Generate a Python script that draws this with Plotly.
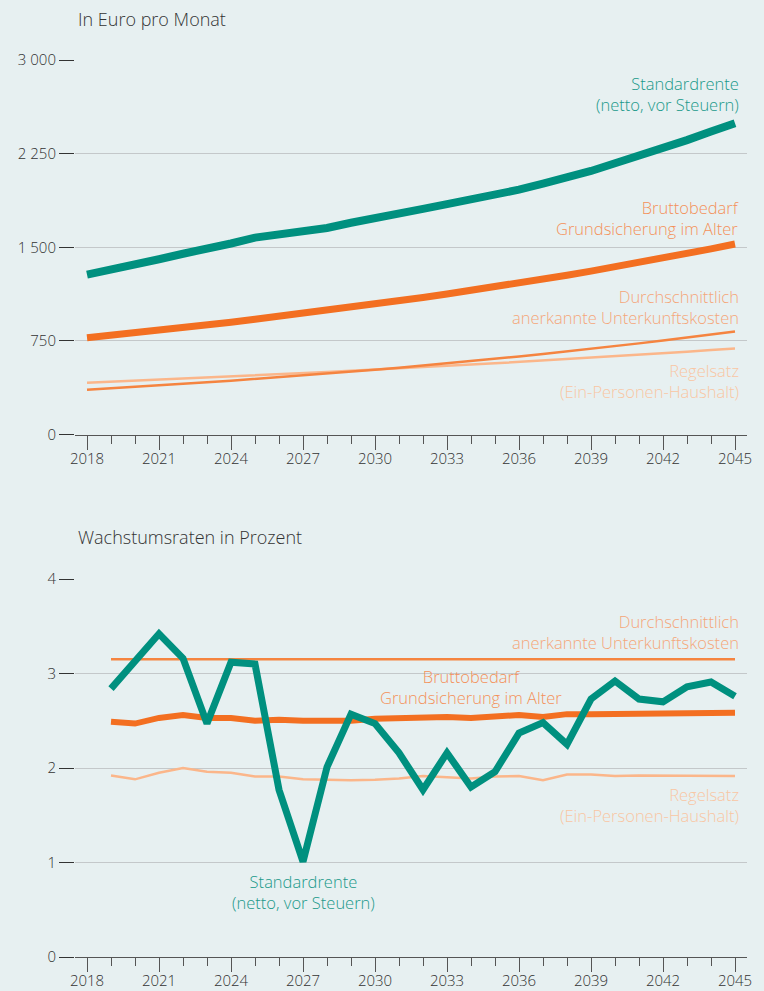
import plotly.graph_objects as go

years = list(range(2018, 2046))
growth_years = list(range(2019, 2046))

# Top chart: Euro per month
standardrente = [1280, 1316, 1357, 1404, 1448, 1484, 1530, 1577, 1605, 1621, 1654, 1696, 1738, 1776,
                 1807, 1846, 1879, 1916, 1961, 2010, 2055, 2111, 2173, 2232, 2292, 2358, 2427, 2494]
bruttobedarf = [775, 794, 814, 834, 856, 877, 899, 923, 946, 969, 994, 1018, 1044, 1070,
                1097, 1125, 1153, 1183, 1214, 1244, 1276, 1309, 1342, 1377, 1413, 1450, 1487, 1526]
unterkunft = [358, 369, 381, 393, 405, 418, 431, 445, 458, 473, 488, 503, 519, 535,
              552, 570, 588, 606, 625, 645, 665, 686, 708, 730, 753, 777, 801, 826]
regelsatz = [414, 422, 430, 438, 447, 456, 464, 473, 482, 491, 500, 510, 519, 529,
             539, 549, 560, 570, 581, 592, 603, 615, 627, 639, 651, 663, 676, 689]

# Bottom chart: growth rates in percent
g_standard = [2.84, 3.14, 3.42, 3.16, 2.47, 3.12, 3.10, 1.77, 1.01, 2.01, 2.57, 2.47, 2.16, 1.77,
              2.16, 1.80, 1.96, 2.37, 2.48, 2.25, 2.73, 2.92, 2.73, 2.70, 2.86, 2.91, 2.76]
g_brutto = [2.49, 2.47, 2.53, 2.56, 2.53, 2.53, 2.50, 2.51, 2.50, 2.50, 2.50, 2.52, 2.53, 2.54,
            2.54, 2.53, 2.54, 2.56, 2.54, 2.57, 2.57, 2.57, 2.575, 2.58, 2.585, 2.585, 2.585]
g_unterkunft = [3.15] * 27
g_regel = [1.92, 1.88, 1.95, 2.00, 1.96, 1.95, 1.91, 1.91, 1.88, 1.875, 1.87, 1.875, 1.89, 1.915,
           1.90, 1.89, 1.91, 1.915, 1.87, 1.93, 1.93, 1.915, 1.92, 1.92, 1.92, 1.915, 1.915]

top_ticks = [0, 750, 1500, 2250, 3000]
top_ticktext = ["0", "750", "1 500", "2 250", "3 000"]
bot_ticks = [0, 1, 2, 3, 4]
x_ticks = list(range(2018, 2046, 3))

TEAL = "#00907f"
ORANGE = "#f36f21"
ORANGE_MID = "#f58440"
ORANGE_LIGHT = "#fbb68a"
TXT_TEAL = "#1a998a"
TXT_BRUTTO = "#f4915a"
TXT_UNTER = "#f5a679"
TXT_REGEL = "#f9c6a3"
BG = "#e7f0f1"
FONT = "Open Sans"

fig = go.Figure()

# top chart traces
fig.add_trace(go.Scatter(x=years, y=regelsatz, mode="lines", line=dict(color=ORANGE_LIGHT, width=2.5),
                         xaxis="x", yaxis="y", showlegend=False))
fig.add_trace(go.Scatter(x=years, y=unterkunft, mode="lines", line=dict(color=ORANGE_MID, width=2.5),
                         xaxis="x", yaxis="y", showlegend=False))
fig.add_trace(go.Scatter(x=years, y=bruttobedarf, mode="lines", line=dict(color=ORANGE, width=7),
                         xaxis="x", yaxis="y", showlegend=False))
fig.add_trace(go.Scatter(x=years, y=standardrente, mode="lines", line=dict(color=TEAL, width=8),
                         xaxis="x", yaxis="y", showlegend=False))

# bottom chart traces
fig.add_trace(go.Scatter(x=growth_years, y=g_regel, mode="lines", line=dict(color=ORANGE_LIGHT, width=2.5),
                         xaxis="x2", yaxis="y2", showlegend=False))
fig.add_trace(go.Scatter(x=growth_years, y=g_unterkunft, mode="lines", line=dict(color=ORANGE_MID, width=2.5),
                         xaxis="x2", yaxis="y2", showlegend=False))
fig.add_trace(go.Scatter(x=growth_years, y=g_brutto, mode="lines", line=dict(color=ORANGE, width=6),
                         xaxis="x2", yaxis="y2", showlegend=False))
fig.add_trace(go.Scatter(x=growth_years, y=g_standard, mode="lines", line=dict(color=TEAL, width=7),
                         xaxis="x2", yaxis="y2", showlegend=False))

W, H = 764, 991
xdom = [75 / W, 747 / W]
top_dom = [1 - 434.5 / H, 1 - 60 / H]
bot_dom = [1 - 957 / H, 1 - 579 / H]

tickfont = dict(family=FONT, size=15, color="#333", weight=350)

xaxis_common = dict(
    range=[2017.5, 2045.5], domain=xdom, tickmode="array", tickvals=x_ticks,
    ticks="outside", ticklen=14, tickwidth=1, tickcolor="#555", ticklabelstandoff=-4,
    minor=dict(dtick=1, tick0=2018, ticks="outside", ticklen=8, tickwidth=1, tickcolor="#555", showgrid=False),
    showline=True, linecolor="#555", linewidth=1, showgrid=False, zeroline=False, automargin=False,
    tickfont=tickfont, fixedrange=True,
)
yaxis_common = dict(
    ticks="outside", ticklen=15, tickwidth=1.3, tickcolor="#333", automargin=False,
    showline=False, showgrid=True, gridcolor="#c4c8ca", gridwidth=1, zeroline=False,
    tickfont=tickfont, fixedrange=True,
)

fig.update_layout(
    width=W, height=H, margin=dict(l=0, r=0, t=0, b=0, autoexpand=False),
    paper_bgcolor=BG, plot_bgcolor=BG,
    font=dict(family=FONT, color="#333"),
    xaxis=dict(**xaxis_common, anchor="y"),
    xaxis2=dict(**xaxis_common, anchor="y2"),
    yaxis=dict(**yaxis_common, domain=top_dom, range=[0, 3000], tickmode="array",
               tickvals=top_ticks, ticktext=top_ticktext, anchor="x"),
    yaxis2=dict(**yaxis_common, domain=bot_dom, range=[0, 4], tickmode="array",
                tickvals=bot_ticks, ticktext=[str(v) for v in bot_ticks], anchor="x2"),
)

ann = []
ann.append(dict(text="In Euro pro Monat", xref="paper", yref="paper", x=76 / W, y=1 - 19 / H,
                xanchor="left", yanchor="middle", showarrow=False,
                font=dict(size=18, color="#333", family=FONT, weight=350)))
ann.append(dict(text="Wachstumsraten in Prozent", xref="paper", yref="paper", x=76 / W, y=1 - 537 / H,
                xanchor="left", yanchor="middle", showarrow=False,
                font=dict(size=18, color="#333", family=FONT, weight=350)))


def label(text, x, y, xa, ya, color, xanchor="right", align="right"):
    ann.append(dict(text=text, x=x, y=y, xref=xa, yref=ya, xanchor=xanchor, yanchor="middle",
                    align=align, showarrow=False, font=dict(size=16.5, color=color, family=FONT, weight=300)))


xr = 2017.5 + (741 - 75) / 24
label("Standardrente<br>(netto, vor Steuern)", xr, 2727, "x", "y", TXT_TEAL)
label("Bruttobedarf<br>Grundsicherung im Alter", xr, 1737, "x", "y", TXT_BRUTTO)
label("Durchschnittlich<br>anerkannte Unterkunftskosten", xr, 1023, "x", "y", TXT_UNTER)
label("Regelsatz<br>(Ein-Personen-Haushalt)", xr, 425, "x", "y", TXT_REGEL)

label("Durchschnittlich<br>anerkannte Unterkunftskosten", xr, 3.434, "x2", "y2", TXT_UNTER)
label("Bruttobedarf<br>Grundsicherung im Alter", 2034.02, 2.857, "x2", "y2", TXT_BRUTTO, "center", "center")
label("Regelsatz<br>(Ein-Personen-Haushalt)", xr, 1.608, "x2", "y2", TXT_REGEL)
label("Standardrente<br>(netto, vor Steuern)", 2027.0, 0.688, "x2", "y2", TXT_TEAL, "center", "center")

fig.update_layout(annotations=ann)

fig.write_html("out.html", config={"displayModeBar": False},
               post_script="document.body.style.margin='0';document.body.style.overflow='hidden';"
                           "document.documentElement.style.overflow='hidden';")
